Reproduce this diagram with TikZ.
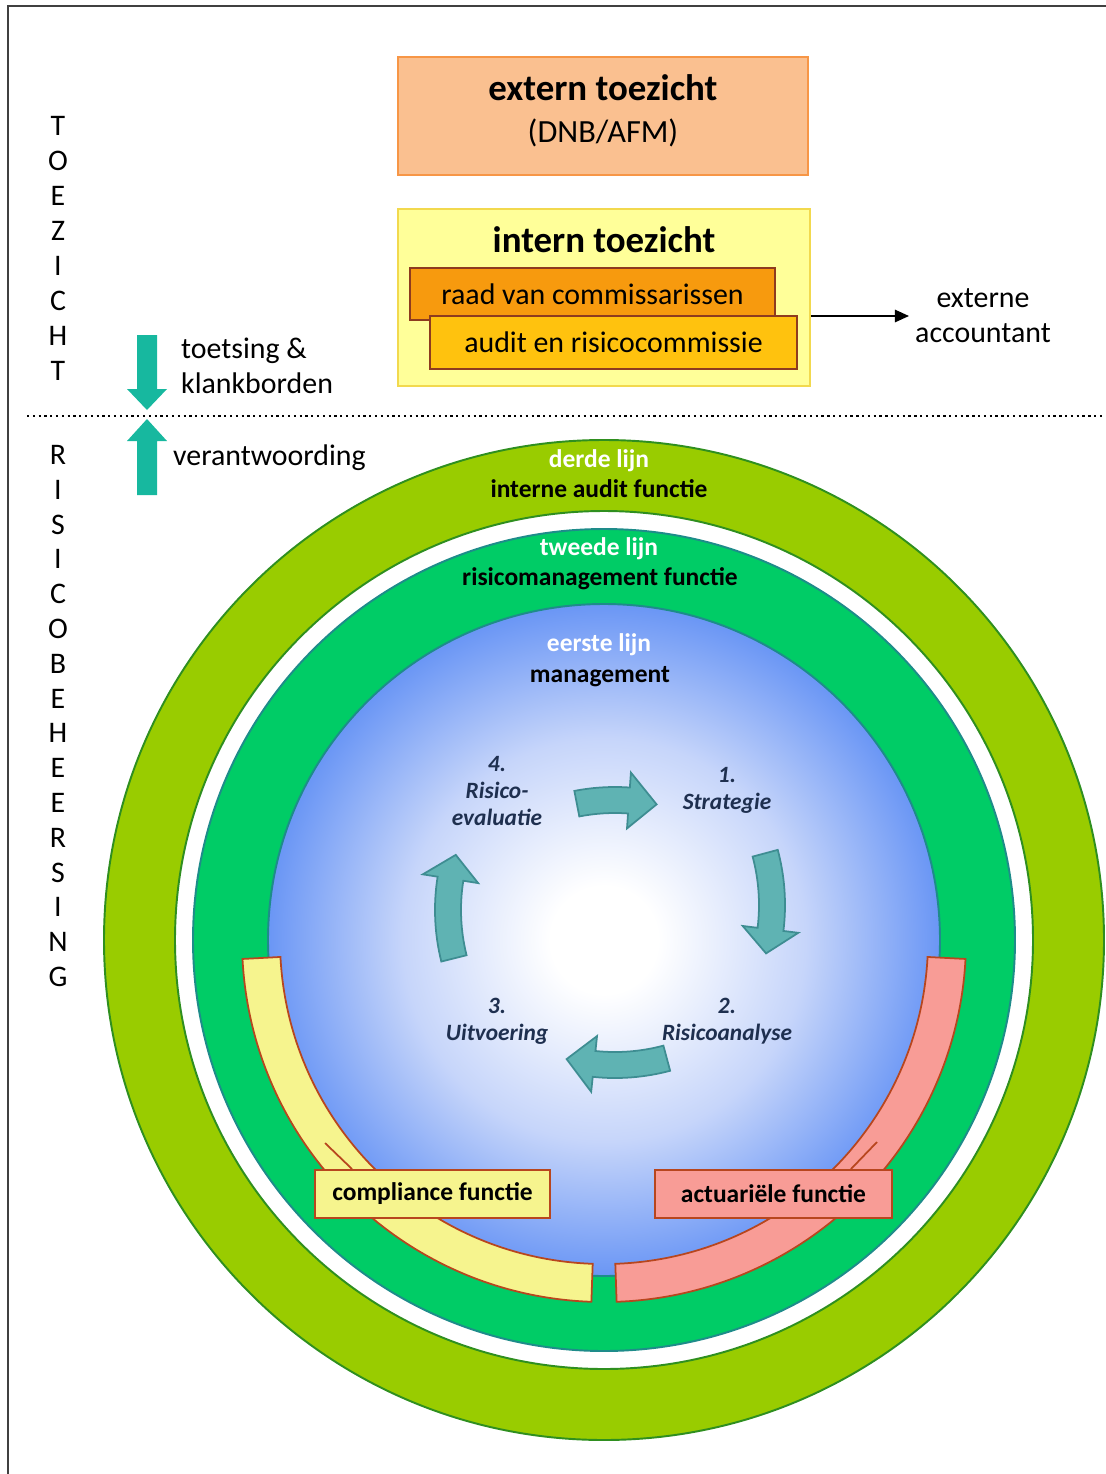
\documentclass[tikz,border=0pt]{standalone}
\usepackage{fontspec}
\setmainfont{Carlito}
\usetikzlibrary{
    calc,
    positioning,
    arrows.meta
}
\definecolor{extfill}{HTML}{FAC090}
\definecolor{extdraw}{HTML}{F79646}
\definecolor{intfill}{HTML}{FFFF99}
\definecolor{intdraw}{HTML}{F2D94E}
\definecolor{raadfill}{HTML}{F79A0E}
\definecolor{auditfill}{HTML}{FFC20E}
\definecolor{brownline}{HTML}{8E3B1F}
\definecolor{tealarrow}{HTML}{17B89F}
\definecolor{ringlight}{HTML}{99CC00}
\definecolor{ringdark}{HTML}{2F8F1F}
\definecolor{discgreen}{HTML}{00CC66}
\definecolor{discedge}{HTML}{1E8C8A}
\definecolor{discblue}{HTML}{6A96F5}
\definecolor{disclight}{HTML}{C6D5FA}
\definecolor{complfill}{HTML}{F6F48E}
\definecolor{actfill}{HTML}{F89C96}
\definecolor{bandedge}{HTML}{B8461E}
\definecolor{cycfill}{HTML}{5FB3B3}
\definecolor{cycedge}{HTML}{3E8D92}
\definecolor{cyctext}{HTML}{1E2F4F}
\pgfdeclareradialshading{discshade}{\pgfpoint{0bp}{0bp}}{color(0bp)=(white); color(4bp)=(white); color(15bp)=(disclight); color(25bp)=(discblue); color(50bp)=(discblue)}
\tikzset{toplabel/.style={font=\fontsize{17}{20}\selectfont}}
\tikzset{titlelabel/.style={font=\fontsize{21}{24}\selectfont\bfseries}}
\tikzset{subbox/.style={draw=brownline, line width=1pt, minimum width=73mm, minimum height=10.5mm, inner sep=0pt, font=\fontsize{17}{20}\selectfont}}
\tikzset{ringlabel/.style={font=\fontsize{14.5}{17}\selectfont\bfseries}}
\tikzset{funcbox/.style={draw=bandedge, line width=1pt, minimum height=9.6mm, inner sep=0pt, font=\fontsize{14.5}{17}\selectfont\bfseries}}
\tikzset{band/.style={draw=bandedge, line width=1pt}}
\tikzset{cyclabel/.style={align=center, text=cyctext, font=\fontsize{13.3}{15.4}\selectfont\bfseries\itshape}}
\tikzset{cycarrow/.style={fill=cycfill, draw=cycedge, line width=1pt}}
\newcommand{\cycarrow}[4]{%
    \filldraw[cycarrow] ($#1+(#2:213)$) arc[start angle=#2, end angle=#3, radius=213]
        -- ($#1+(#3:228)$) -- ($#1+(#4:200)$) -- ($#1+(#3:172)$) -- ($#1+(#3:187)$)
        arc[start angle=#3, end angle=#2, radius=187] -- cycle;}

\begin{document}
\begin{tikzpicture}[x=0.2mm, y=-0.2mm]
    \useasboundingbox (0,0) rectangle (1106,1474);
    \draw[line width=1.1pt, black!75] (8,1474) -- (8,6) -- (1106,6);

    % toezicht
    \node[draw=extdraw, fill=extfill, line width=1.1pt, minimum width=82mm, minimum height=23.6mm] (extern) at (603,116) {};
    \node[titlelabel] (externtitle) at (603,88) {extern toezicht};
    \node[font=\fontsize{18.4}{21}\selectfont] (externsub) at (603,133) {(DNB/AFM)};

    \node[draw=intdraw, fill=intfill, line width=1.1pt, minimum width=82.4mm, minimum height=35.4mm] (intern) at (604,297.5) {};
    \node[titlelabel] (interntitle) at (604,240) {intern toezicht};
    \node[subbox, fill=raadfill] (raad) at (592.5,294) {raad van commissarissen};
    \node[subbox, fill=auditfill, minimum width=73.4mm, minimum height=10.6mm] (audit) at (613.5,342.5) {audit en risicocommissie};

    \node[toplabel, align=center] (acc) at (983,316) {externe\\accountant};
    \draw[-{Triangle[length=8pt, width=7pt]}, line width=1.1pt] (intern.east |- acc.west) -- (acc.west);

    \foreach \ch [count=\i from 0] in {T,O,E,Z,I,C,H,T}
        \node[toplabel] (tz\i) at (58,126+35*\i) {\ch};
    \foreach \ch [count=\i from 0] in {R,I,S,I,C,O,B,E,H,E,E,R,S,I,N,G}
        \node[toplabel] (rb\i) at (58,455+34.8*\i) {\ch};

    \draw[dotted, line width=1.3pt] (27,416) -- (1102,416);

    \fill[tealarrow] (137,335) -- (157,335) -- (157,389) -- (167,389) -- (147,410) -- (127,389) -- (137,389) -- cycle;
    \fill[tealarrow] (147,419) -- (167,441) -- (157,441) -- (157,495) -- (137,495) -- (137,441) -- (127,441) -- cycle;
    \node[toplabel, align=left, anchor=west] (toets) at (175,366) {toetsing \&\\klankborden};
    \node[toplabel, anchor=west] (verant) at (167,458) {verantwoording};

    % risicobeheersing
    \coordinate (C) at (604,940);
    \draw[fill=ringlight, draw=ringdark, line width=1.1pt] (C) circle (500);
    \draw[fill=white, draw=ringdark, line width=1.1pt] (C) circle (429);
    \draw[fill=discgreen, draw=discedge, line width=1.1pt] (C) circle (411);
    \shade[shading=discshade] (C) circle (336);
    \draw[discedge, line width=1.1pt] (C) circle (336);

    \draw[band, fill=complfill] ($(C)+(92:362)$) arc[start angle=92, end angle=177, radius=362]
        -- ($(C)+(177:324)$) arc[start angle=177, end angle=92, radius=324] -- cycle;
    \draw[band, fill=actfill] ($(C)+(3:362)$) arc[start angle=3, end angle=88, radius=362]
        -- ($(C)+(88:324)$) arc[start angle=88, end angle=3, radius=324] -- cycle;

    \node[funcbox, fill=complfill, minimum width=47mm] (compl) at (432.5,1194) {compliance functie};
    \node[funcbox, fill=actfill, minimum width=47.4mm] (act) at (773.5,1194) {actuariële functie};
    \coordinate (compltip) at (325,1143);
    \coordinate (acttip) at (877,1142);
    \draw[bandedge, line width=1pt] ($(compl.north west)+(38,0)$) -- (compltip);
    \draw[bandedge, line width=1pt] ($(act.north east)+(-42,0)$) -- (acttip);

    \node[ringlabel, text=white] (derde) at (599,461) {derde lijn};
    \node[ringlabel] (iaf) at (599,489) {interne audit functie};
    \node[ringlabel, text=white] (tweede) at (599,549) {tweede lijn};
    \node[ringlabel] (rmf) at (600,579) {risicomanagement functie};
    \node[ringlabel, text=white] (eerste) at (599,645) {eerste lijn};
    \node[ringlabel] (mgmt) at (600,677) {management};

    % cyclus
    \cycarrow{(615,1000)}{-101}{-86}{-78}
    \cycarrow{(572,905)}{-15}{7}{14}
    \cycarrow{(615,865)}{75}{96}{104}
    \cycarrow{(648,910)}{166}{189}{196}

    \node[cyclabel] (evaluatie) at (497,791) {4.\\Risico-\\evaluatie};
    \node[cyclabel] (strategie) at (727,790) {1.\\Strategie};
    \node[cyclabel] (analyse) at (727,1021) {2.\\Risicoanalyse};
    \node[cyclabel] (uitvoering) at (497,1021) {3.\\Uitvoering};
\end{tikzpicture}
\end{document}
